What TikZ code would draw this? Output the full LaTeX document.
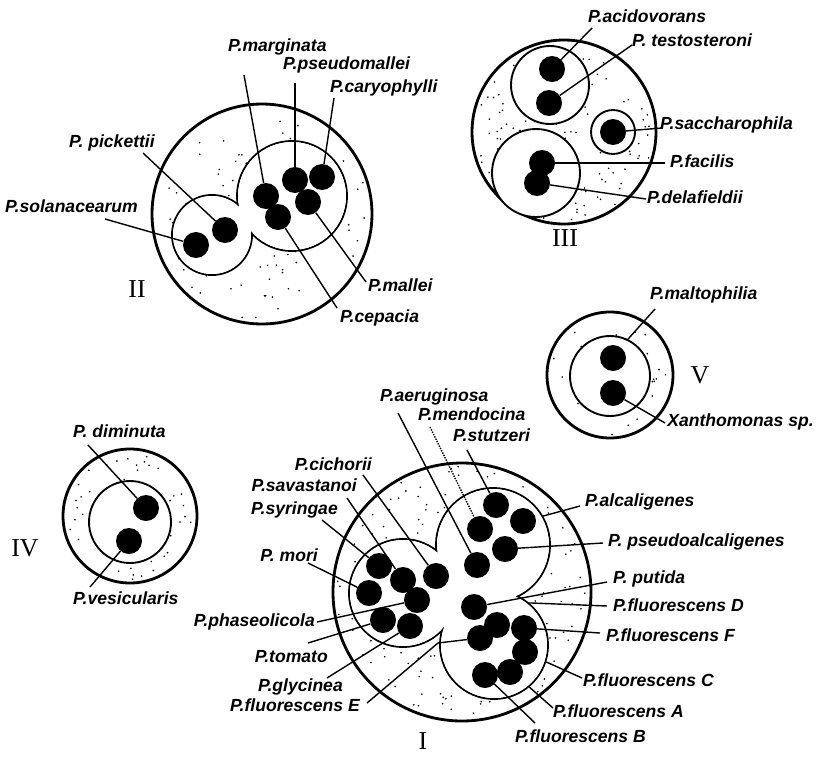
\documentclass[tikz,border=0pt]{standalone}
\usepackage{fontspec}
\usepackage{tikz}
\usetikzlibrary{calc}
\newfontfamily\lblfont{Liberation Sans}
\newfontfamily\romfont{Liberation Serif}
\newlength\pxu
\setlength\pxu{0.03cm}
\tikzset{
  outer/.style={line width=2.4pt},
  lobe/.style={circle, draw, line width=1.6pt, inner sep=0pt},
  dot/.style={circle, fill=black, inner sep=0pt, minimum size=26\pxu},
  lbl/.style={font=\lblfont\bfseries\itshape\fontsize{15}{17}\selectfont,
    inner sep=0pt, text height=10.5pt, text depth=2pt},
  lead/.style={line width=1.2pt},
  num/.style={font=\romfont\fontsize{22}{24}\selectfont, inner sep=0pt}
}
\newcommand\speckle[4]{%
  \foreach \k in {1,...,#4}{%
    \pgfmathsetmacro\rr{#3*sqrt(rnd)}%
    \pgfmathsetmacro\aa{360*rnd}%
    \fill (#1,#2) ++(\aa:\rr) circle (0.9);}}

\begin{document}
\begin{tikzpicture}[x=0.03cm, y=-0.03cm]
  \useasboundingbox (0,0) rectangle (818,757);
  \pgfmathsetseed{11}

  % II
  \speckle{262}{214}{107}{80}
  \draw[outer] (262,214) circle (110);
  \node[lobe, minimum size=80\pxu] (lA) at (212,235) {};
  \node[lobe, minimum size=110\pxu] (lB) at (292,196) {};
  \fill[white] (lA.center) circle (39) (lB.center) circle (54);

  % III
  \speckle{564}{132}{89}{140}
  \draw[outer] (564,132) circle (92);
  \node[lobe, fill=white, minimum size=78\pxu] (iU) at (550,85) {};
  \node[lobe, fill=white, minimum size=88\pxu] (iD) at (536,173) {};
  \node[lobe, fill=white, minimum size=44\pxu] (iS) at (613,132) {};

  % V
  \speckle{610}{375}{60}{40}
  \draw[outer] (610,375) circle (63);
  \node[lobe, fill=white, minimum size=80\pxu] (inV) at (610,376) {};

  % IV
  \speckle{130}{516}{64}{60}
  \draw[outer] (130,516) circle (67);
  \node[lobe, fill=white, minimum size=82\pxu] (iIV) at (130,522) {};

  % I
  \speckle{462}{592}{126}{240}
  \draw[outer] (462,592) circle (129);
  \node[lobe, minimum size=114\pxu] (lU) at (493,545) {};
  \node[lobe, minimum size=108\pxu] (lL) at (403,593) {};
  \node[lobe, minimum size=108\pxu] (lD) at (494,645) {};
  \fill[white] (lU.center) circle (56) (lL.center) circle (53) (lD.center) circle (53);
  \fill[white] (lU.center) -- (lL.center) -- (lD.center) -- cycle;

  \foreach \n/\x/\y in {pi1/225/230, so1/196/245, ma1/266/196, ps1/295/180,
      ca1/322/177, ml1/308/202, ce1/278/217,
      ac1/552/69, te1/549/103, sa1/613/132, fa1/542/163, de1/537/183,
      mt1/613/358, xa1/613/393, di1/146/508, ve1/129/541,
      a1/379/566, a2/403/580, a3/436/576, a4/369/593, a5/417/600, a6/383/620, a7/410/626,
      b1/496/505, b2/523/521, b3/480/529, b4/505/549, b5/477/565, c1/474/607,
      e1/497/625, e2/480/638, e3/524/628, e4/525/652, e5/485/675, e6/510/672}
    \node[dot] (\n) at (\x,\y) {};

  \foreach \n/\x/\y/\s in {tmar/228/47/{P.marginata}, tpsm/283/65/{P.pseudomallei},
      tcar/330/88/{P.caryophylli}, tmal/368/287/{P.mallei}, tcep/340/318/{P.cepacia},
      tacd/588/18/{P.acidovorans}, ttes/632/42/{P. testosteroni},
      tsac/660/125/{P.saccharophila}, tfac/670/163/{P.facilis},
      tdel/647/199/{P.delafieldii}, tmlt/650/295/{P.maltophilia},
      tdim/73/433/{P. diminuta},
      tves/73/600/{P.vesicularis}, taer/380/397/{P.aeruginosa},
      tmen/418/416/{P.mendocina}, tstu/453/437/{P.stutzeri},
      talc/585/502/{P.alcaligenes}, tpal/608/542/{P. pseudoalcaligenes},
      tput/613/579/{P. putida}, tfD/613/607/{P.fluorescens D},
      tfF/606/637/{P.fluorescens F}, tfC/583/682/{P.fluorescens C},
      tfA/553/713/{P.fluorescens A}, tfB/515/738/{P.fluorescens B}}
    \node[lbl, anchor=west] (\n) at (\x,\y) {\s};
  \foreach \n/\x/\y/\s in {tpic/155/143/{P. pickettii}, tsol/138/208/{P.solanacearum},
      txan/814/422/{Xanthomonas sp.},
      tcic/372/466/{P.cichorii}, tsav/357/487/{P.savastanoi},
      tsyr/338/510/{P.syringae}, tmor/318/557/{P. mori},
      tpha/315/622/{P.phaseolicola}, ttom/328/658/{P.tomato},
      tgly/343/687/{P.glycinea}, tfE/360/707/{P.fluorescens E}}
    \node[lbl, anchor=east] (\n) at (\x,\y) {\s};

  \foreach \lab/\anc/\dx/\dy/\dst in {tmar/west/16/28/ma1, tpsm/west/12/18/ps1,
      tcar/west/4/10/ca1, tmal/west/-2/-5/ml1, tcep/west/-3/-10/ce1,
      tpic/east/-12/10/pi1, tsol/east/-33/11/so1,
      tacd/west/4/10/ac1, ttes/west/0/3/te1, tsac/west/2/3/sa1,
      tfac/west/-5/0/fa1, tdel/west/-1/0/de1,
      tmlt/west/5/14/inV.64, txan/west/-2/1/xa1,
      tdim/west/15/12/di1, tves/west/17/-13/ve1,
      taer/west/18/16/b5, tstu/west/14/13/b1,
      tcic/east/-9/9/a3, tsav/east/-10/11/a2, tsyr/east/-16/10/a1,
      tmor/east/-10/6/a4, tpha/east/2/0/a5, ttom/east/-20/-15/a6,
      tgly/east/-16/-9/a7,
      talc/west/-5/4/lU.30, tpal/west/-5/1/b4, tput/west/-6/3/c1,
      tfD/west/-6/-1/lD.50, tfF/west/-6/-4/e3, tfC/west/-1/-4/lD.-18,
      tfA/west/0/-5/lD.-50, tfB/west/20/-15/e5}
    \draw[lead] ($(\lab.\anc)+(\dx,\dy)$) -- (\dst);
  \draw[lead, densely dotted] ($(tmen.west)+(12,11)$) -- (b3);
  \coordinate (nE) at (438,643);
  \draw[lead] ($(tfE.east)+(7,-4)$) -- (nE) -- (e2);

  \node[num] (nII) at (137,289) {II};
  \node[num] (nIII) at (565,238) {III};
  \node[num] (nIV) at (25,548) {IV};
  \node[num] (nV) at (700,375) {V};
  \node[num] (nI) at (423,741) {I};
\end{tikzpicture}
\end{document}
